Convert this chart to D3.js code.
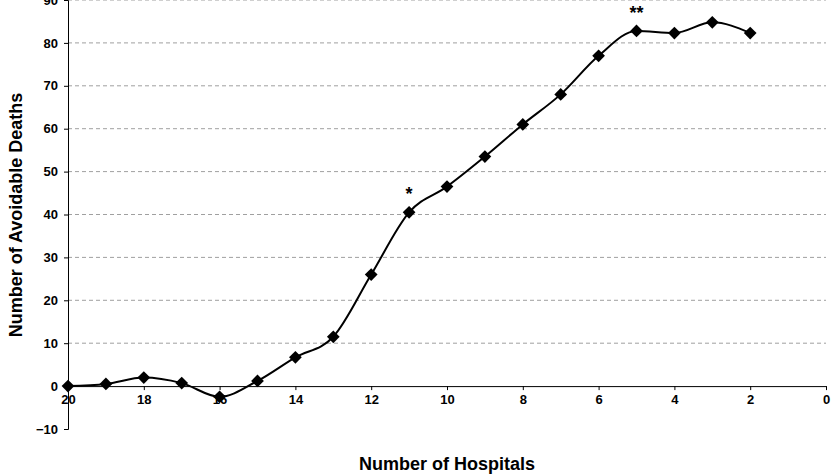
<!DOCTYPE html>
<html><head><meta charset="utf-8">
<script src="https://cdn.jsdelivr.net/npm/d3@7"></script>
<style>body{margin:0;background:#fff}text{font-family:"Liberation Sans",Arial,sans-serif;font-weight:bold}</style>
</head><body><svg id="c" width="834" height="476"></svg>
<script>
const hospitals=[20,19,18,17,16,15,14,13,12,11,10,9,8,7,6,5,4,3,2];
const deaths=[0,0.5,2,0.7,-2.5,1.2,6.7,11.5,26,40.5,46.5,53.5,61,68,77,82.8,82.3,84.8,82.3];
const yTicks=[-10,0,10,20,30,40,50,60,70,80,90];
const xTicks=[20,18,16,14,12,10,8,6,4,2,0];
const notes=[{x:11,label:"*"},{x:5,label:"**"}];
const svg=d3.select("#c");
const x=d3.scaleLinear().domain([20,0]).range([68,826]);
const y=d3.scaleLinear().domain([-10,90]).range([429,0]);
svg.append("g").selectAll("line").data(yTicks.filter(d=>d!==0&&d!==-10)).join("line")
 .attr("x1",68).attr("x2",826).attr("y1",d=>y(d)).attr("y2",d=>y(d))
 .attr("stroke","#888").attr("stroke-dasharray","4,3").attr("stroke-width",0.8);
const ya=svg.append("g").attr("transform","translate(68,0)").call(d3.axisLeft(y).tickValues(yTicks).tickSize(4).tickPadding(6));
ya.select(".domain").attr("stroke","#000");
ya.selectAll("text").attr("font-size",13).attr("fill","#000");
const xa=svg.append("g").attr("transform",`translate(0,${y(0)})`).call(d3.axisBottom(x).tickValues(xTicks).tickSize(4).tickSizeOuter(0).tickPadding(5));
xa.selectAll("text").attr("font-size",13).attr("fill","#000");
const pts=hospitals.map((h,i)=>[x(h),y(deaths[i])]);
svg.append("path").attr("d",d3.line().curve(d3.curveMonotoneX)(pts)).attr("fill","none").attr("stroke","#000").attr("stroke-width",2);
svg.append("g").selectAll("path").data(pts).join("path")
 .attr("transform",d=>`translate(${d[0]},${d[1]}) rotate(45)`)
 .attr("d","M-4.5,-4.5H4.5V4.5H-4.5Z").attr("fill","#000");
svg.append("g").selectAll("text").data(notes).join("text")
 .attr("x",d=>x(d.x)).attr("y",d=>y(deaths[hospitals.indexOf(d.x)])-12)
 .attr("text-anchor","middle").attr("font-size",18).text(d=>d.label);
svg.append("text").attr("x",447).attr("y",470).attr("text-anchor","middle").attr("font-size",18).text("Number of Hospitals");
svg.append("text").attr("transform","translate(22,215) rotate(-90)").attr("text-anchor","middle").attr("font-size",18).text("Number of Avoidable Deaths");
</script></body></html>
